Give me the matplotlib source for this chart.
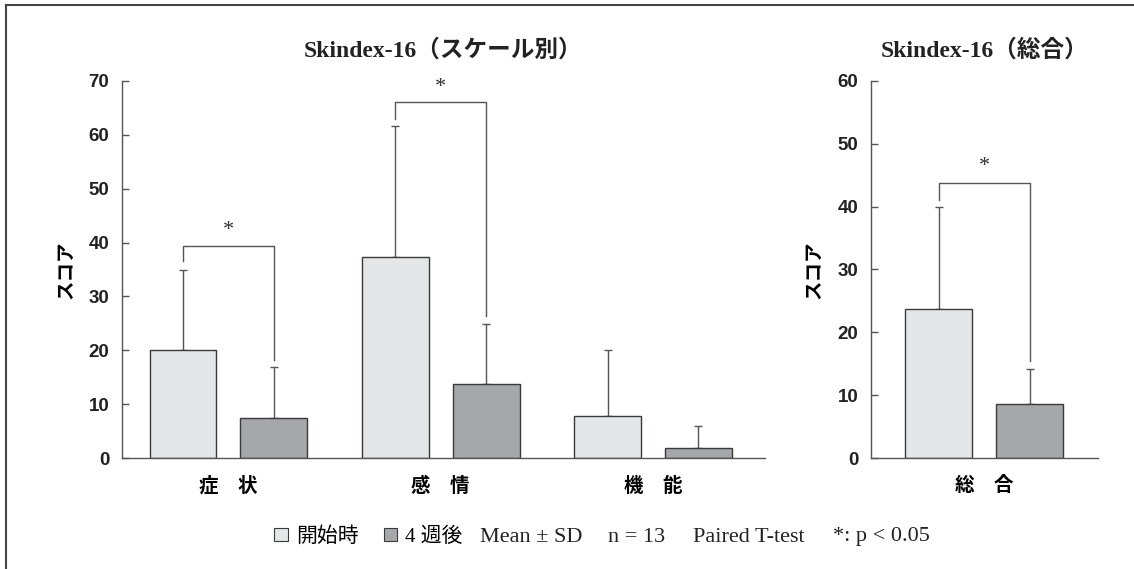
import matplotlib.pyplot as plt
import numpy as np
from matplotlib.patches import Patch
from matplotlib.lines import Line2D

# Skindex-16 scores, mean and SD, start vs. after 4 weeks
scales = ['症　状', '感　情', '機　能']
start_mean = [20.0, 37.4, 7.8]
start_sd = [15.0, 24.2, 12.2]
week4_mean = [7.5, 13.8, 1.9]
week4_sd = [9.4, 11.1, 4.1]

total_label = ['総　合']
total_start_mean = [23.8]
total_start_sd = [16.2]
total_week4_mean = [8.6]
total_week4_sd = [5.6]

# significance brackets: (group, top, left leg end, right leg end)
brackets = [(0, 39.4, 36.5, 18.2), (1, 66.0, 62.9, 26.3)]
total_bracket = [(0, 43.8, 41.0, 15.4)]

legend_labels = ['開始時', '4 週後']
notes = ['Mean ± SD', 'n = 13', 'Paired T-test', '*: p < 0.05']

light = '#e5e6e8'
dark = '#a6a7aa'
edge = '#3a3a3a'
line = '#555555'

sans = ['Liberation Sans', 'Noto Sans CJK JP']
jp_sans = ['Noto Sans CJK JP', 'Liberation Sans']
serif = ['Liberation Serif', 'Noto Sans CJK JP']

W, H = 1134, 569
fig = plt.figure(figsize=(W / 100, H / 100), dpi=100)

ax1 = fig.add_axes([121.7 / W, 1 - 458.3 / H, 642.9 / W, 377.6 / H])
ax2 = fig.add_axes([870.7 / W, 1 - 458.3 / H, 226.9 / W, 377.6 / H])

off = 0.214
bw = 0.315


def draw(ax, labels, m0, s0, m1, s1, brk, ymax, title, xlim, ylab_x):
    x = np.arange(len(labels))
    ax.bar(x - off, m0, bw, color=light, edgecolor=edge, linewidth=1.0, zorder=2)
    ax.bar(x + off, m1, bw, color=dark, edgecolor=edge, linewidth=1.0, zorder=2)
    ax.errorbar(x - off, m0, yerr=[np.zeros(len(m0)), s0], fmt='none',
                ecolor=line, elinewidth=1.0, capsize=3, capthick=1.0, zorder=1)
    ax.errorbar(x + off, m1, yerr=[np.zeros(len(m1)), s1], fmt='none',
                ecolor=line, elinewidth=1.0, capsize=3, capthick=1.0, zorder=1)
    for g, top, yl, yr in brk:
        ax.plot([g - off, g - off, g + off, g + off], [yl, top, top, yr],
                color=line, lw=1.0, zorder=3)
        ax.text(g, top + 1.0, '*', ha='center', va='bottom', fontsize=16,
                family=serif, color='#333333')

    ax.set_xlim(*xlim)
    ax.set_ylim(0, ymax)
    ax.set_yticks(np.arange(0, ymax + 1, 10))
    ax.set_xticks(x)
    ax.set_xticklabels(labels, family=jp_sans, fontweight='bold', fontsize=14)
    ax.tick_params(axis='x', length=0, pad=13)
    ax.tick_params(axis='y', direction='in', length=5, width=1.0, color=line,
                   pad=9, labelsize=13.5)
    for t in ax.get_yticklabels():
        t.set_family(sans)
        t.set_fontweight('bold')
        t.set_color('#222222')
    for s in ['top', 'right']:
        ax.spines[s].set_visible(False)
    for s in ['left', 'bottom']:
        ax.spines[s].set_color(line)
        ax.spines[s].set_linewidth(1.0)
    ax.set_ylabel('スコア', family=jp_sans, fontweight='bold', fontsize=14)
    ax.yaxis.set_label_coords(ylab_x, 0.5)
    ax.set_title(title, family=serif, fontweight='bold', fontsize=17, pad=17,
                 color='#222222')


draw(ax1, scales, start_mean, start_sd, week4_mean, week4_sd, brackets, 70,
     'Skindex-16（スケール別）', (-0.503, 2.526), -0.072)
draw(ax2, total_label, total_start_mean, total_start_sd, total_week4_mean,
     total_week4_sd, total_bracket, 60, 'Skindex-16（総合）', (-0.535, 0.533), -0.21)

# legend line under the charts
handles = [Patch(facecolor=light, edgecolor=edge, linewidth=0.8),
           Patch(facecolor=dark, edgecolor=edge, linewidth=0.8)]
fig.legend(handles, legend_labels, ncol=2, loc='center left',
           bbox_to_anchor=(274 / W, 1 - 537 / H), frameon=False,
           handlelength=0.65, handleheight=0.65, handletextpad=0.4,
           columnspacing=1.2, borderpad=0, borderaxespad=0,
           prop={'family': serif, 'size': 15})
for xpos, s in zip([480, 608, 693, 833], notes):
    fig.text(xpos / W, 1 - 537 / H, s, ha='left', va='center', family=serif,
             fontsize=16, color='#222222')

# outer frame
fig.add_artist(Line2D([6 / W, 6 / W], [0, 1 - 5 / H], color='#444444', lw=1.5))
fig.add_artist(Line2D([6 / W, 1], [1 - 5 / H, 1 - 5 / H], color='#444444', lw=1.5))

fig.savefig('out.png', dpi=100)
